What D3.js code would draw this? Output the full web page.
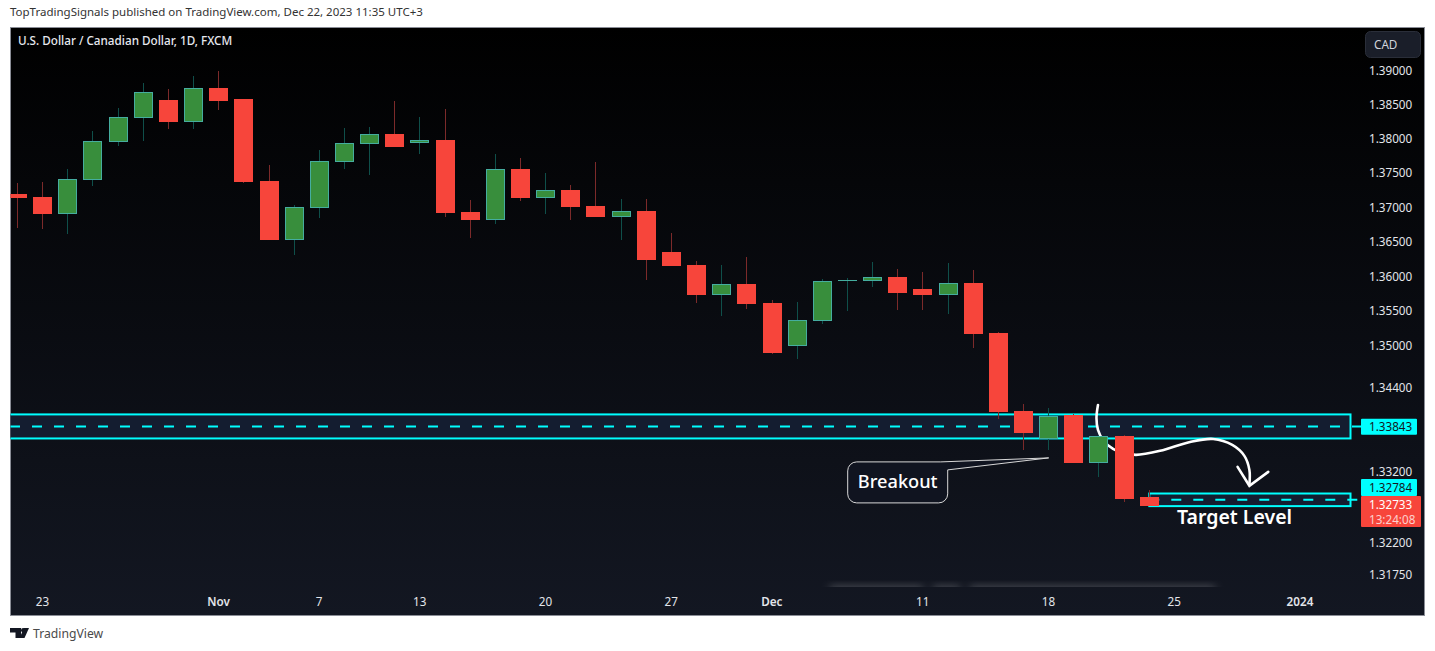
<!DOCTYPE html>
<html>
<head>
<meta charset="utf-8">
<script src="https://cdn.jsdelivr.net/npm/d3@7"></script>
<style>
  html, body { margin: 0; padding: 0; background: #fff; overflow: hidden; }
  text { font-family: "Noto Sans", "Open Sans", sans-serif; }
  .domain { display: none; }
</style>
</head>
<body>
<svg id="chart" width="1435" height="651"></svg>
<script>
// daily sessions, Oct 20 2023 to Dec 22 2023 (USD/CAD 1D)
var barDates = ["10-20","10-23","10-24","10-25","10-26","10-27","10-30","10-31","11-01","11-02","11-03",
  "11-06","11-07","11-08","11-09","11-10","11-13","11-14","11-15","11-16","11-17","11-20","11-21","11-22","11-23","11-24",
  "11-27","11-28","11-29","11-30","12-01","12-04","12-05","12-06","12-07","12-08","12-11","12-12","12-13","12-14","12-15",
  "12-18","12-19","12-20","12-21","12-22"];
var opens = [1.37194,1.37150,1.36907,1.37409,1.37965,1.38314,1.38559,1.38253,1.38746,1.38573,1.37384,
  1.36531,1.37000,1.37669,1.37934,1.38068,1.37945,1.37980,1.36932,1.36820,1.37555,1.37140,1.37248,1.37015,1.36864,1.36942,
  1.36347,1.36159,1.35735,1.35884,1.35610,1.35002,1.35365,1.35938,1.35936,1.35985,1.35812,1.35735,1.35899,1.35179,1.34062,
  1.33674,1.33996,1.33339,1.33708,1.32837];
var highs = [1.37350,1.37365,1.37555,1.38116,1.38450,1.38824,1.38735,1.38926,1.39000,1.38590,1.37618,
  1.37034,1.37838,1.38160,1.38175,1.38559,1.38317,1.38439,1.37107,1.37779,1.37720,1.37501,1.37326,1.37661,1.37121,1.37121,
  1.36627,1.36221,1.36163,1.36279,1.35658,1.35629,1.35961,1.35975,1.36206,1.36105,1.36062,1.36192,1.36090,1.35190,1.34166,
  1.34109,1.34024,1.33726,1.33726,1.32948];
var lows = [1.36705,1.36690,1.36618,1.37315,1.37900,1.37974,1.38150,1.38150,1.38425,1.37360,1.36525,
  1.36314,1.36850,1.37564,1.37476,1.37880,1.37780,1.36865,1.36560,1.36763,1.37096,1.36907,1.36820,1.36858,1.36526,1.35951,
  1.36148,1.35620,1.35432,1.35533,1.34888,1.34816,1.35316,1.35503,1.35850,1.35514,1.35514,1.35460,1.34973,1.33958,1.33517,
  1.33517,1.33328,1.33131,1.32783,1.32725];
var closes = [1.37140,1.36907,1.37409,1.37965,1.38317,1.38687,1.38253,1.38740,1.38563,1.37374,1.36531,
  1.37000,1.37672,1.37937,1.38068,1.37886,1.37980,1.36922,1.36820,1.37555,1.37140,1.37248,1.37009,1.36864,1.36942,1.36241,
  1.36153,1.35735,1.35884,1.35605,1.34902,1.35365,1.35928,1.35946,1.35985,1.35763,1.35735,1.35899,1.35173,1.34056,1.33759,
  1.33992,1.33334,1.33708,1.32826,1.32733];

// axis labels
var priceTicks = [1.39,1.385,1.38,1.375,1.37,1.365,1.36,1.355,1.35,1.344,1.332,1.322,1.3175];
var timeTickBars = [1,8,12,16,21,26,30,36,41,46,51];
var timeTickLabels = ["23","Nov","7","13","20","27","Dec","11","18","25","2024"];
var timeTickBold = ["Nov","Dec","2024"];

// drawings, in bar index / price
var zoneLevels = [1.33843, 1.32784];
var zoneTops = [1.34018, 1.32896];
var zoneBottoms = [1.33676, 1.32718];
var zoneStarts = [-0.7, 45];
var zoneEnd = 53;
var arrowBars = [42.96,42.90,42.96,43.16,43.56,44.0,44.47,45.43,46.62,47.54,48.30,48.78,48.98,48.98];
var arrowPrices = [1.34152,1.33968,1.33797,1.33655,1.33527,1.33471,1.33443,1.33500,1.33627,1.33669,1.33584,1.33429,1.33230,1.33019];
var headBars = [48.51,48.98,49.73];
var headPrices = [1.33273,1.33005,1.33202];
var lastPrice = closes[closes.length - 1];

var svg = d3.select("#chart");
var defs = svg.append("defs");

var panel = {left: 10.5, right: 1424.5, top: 27.5, bottom: 615.5};

var x = d3.scaleLinear().domain([0, 53]).range([17.5, 1350.5]);
var y = d3.scaleLog().domain([1.39, 1.3175]).range([71, 575]);

var bg = defs.append("linearGradient").attr("id", "bg").attr("x1", 0).attr("y1", 0).attr("x2", 0).attr("y2", 1);
bg.append("stop").attr("offset", "0%").attr("stop-color", "#000000");
bg.append("stop").attr("offset", "100%").attr("stop-color", "#131722");

var smear = defs.append("linearGradient").attr("id", "smear").attr("x1", 0).attr("y1", 0).attr("x2", 0).attr("y2", 1);
smear.append("stop").attr("offset", "0%").attr("stop-color", "#fff").attr("stop-opacity", 0);
smear.append("stop").attr("offset", "100%").attr("stop-color", "#fff").attr("stop-opacity", 0.13);

defs.append("filter").attr("id", "soft").attr("x", "-5%").attr("width", "110%")
  .append("feGaussianBlur").attr("stdDeviation", "4 0");

defs.append("clipPath").attr("id", "plot").append("rect")
  .attr("x", panel.left).attr("y", panel.top)
  .attr("width", panel.right - panel.left).attr("height", panel.bottom - panel.top);

//Top line of the snapshot
svg.append("text").attr("x", 10).attr("y", 16)
  .style("font-size", "11.5px").attr("fill", "#333")
  .text("TopTradingSignals published on TradingView.com, Dec 22, 2023 11:35 UTC+3");

//Chart panel
svg.append("rect")
  .attr("x", panel.left).attr("y", panel.top)
  .attr("width", panel.right - panel.left).attr("height", panel.bottom - panel.top)
  .attr("fill", "url(#bg)").attr("stroke", "#8a8d96");

//Faint smear above the time axis
svg.append("g").attr("filter", "url(#soft)").selectAll("rect")
  .data([[830, 93], [933, 27], [970, 245]])
  .enter().append("rect")
  .attr("x", d => d[0]).attr("y", 580).attr("width", d => d[1]).attr("height", 7)
  .attr("fill", "url(#smear)");

var plot = svg.append("g").attr("clip-path", "url(#plot)");

//Zones with dashed level
zoneLevels.forEach(function(level, i) {
  var x0 = x(zoneStarts[i]), x1 = x(zoneEnd);
  var top = y(zoneTops[i]), bottom = y(zoneBottoms[i]);
  plot.append("rect")
    .attr("x", x0).attr("y", top)
    .attr("width", x1 - x0).attr("height", bottom - top)
    .attr("fill", "#141d30").attr("stroke", "#00ffff").attr("stroke-width", 2);
  plot.append("line")
    .attr("x1", Math.max(x0, 10)).attr("x2", x1 + 11)
    .attr("y1", (top + bottom) / 2).attr("y2", (top + bottom) / 2)
    .attr("stroke", "#00ffff").attr("stroke-width", 2).attr("stroke-dasharray", "10 12");
});

//Freehand arrow, passes behind the candles
var curve = d3.line().x(d => x(d[0])).y(d => y(d[1])).curve(d3.curveCatmullRom);
plot.append("path")
  .attr("d", curve(d3.zip(arrowBars, arrowPrices)))
  .attr("fill", "none").attr("stroke", "#fff").attr("stroke-width", 2.6).attr("stroke-linecap", "round");
plot.append("path")
  .attr("d", d3.line().x(d => x(d[0])).y(d => y(d[1]))(d3.zip(headBars, headPrices)))
  .attr("fill", "none").attr("stroke", "#fff").attr("stroke-width", 2.6).attr("stroke-linecap", "round");

//Candles
var candles = barDates.map(function(d, i) {
  return {date: d, i: i, o: opens[i], h: highs[i], l: lows[i], c: closes[i]};
});
var bodyWidth = 18;

plot.selectAll(".wick").data(candles).enter().append("line")
  .classed("wick", true)
  .attr("x1", d => x(d.i)).attr("x2", d => x(d.i))
  .attr("y1", d => y(d.h)).attr("y2", d => y(d.l))
  .attr("shape-rendering", "crispEdges")
  .attr("stroke", d => d.c >= d.o ? "#0f4f4a" : "#7c2a2a");

plot.selectAll(".body").data(candles).enter().append("rect")
  .classed("body", true)
  .attr("x", d => x(d.i) - bodyWidth / 2)
  .attr("y", d => y(Math.max(d.o, d.c)))
  .attr("width", bodyWidth)
  .attr("height", d => Math.max(Math.abs(y(d.o) - y(d.c)), 0.5))
  .attr("shape-rendering", "crispEdges")
  .attr("fill", d => d.c >= d.o ? "#388e3c" : "#f7453b")
  .attr("stroke", d => d.c >= d.o ? "#45ad9f" : "#f7453b");

//Breakout callout, anchored on the Dec 18 bar
var tipX = x(41), tipY = y(1.334);
var boxL = tipX - 201, boxT = tipY + 4, boxR = boxL + 100, boxB = boxT + 41, r = 9;
var calloutPath = d3.path();
calloutPath.moveTo(boxL + r, boxT);
calloutPath.lineTo(boxR - 7, boxT);
calloutPath.lineTo(tipX, tipY);
calloutPath.lineTo(boxR, boxT + 8);
calloutPath.lineTo(boxR, boxB - r);
calloutPath.arcTo(boxR, boxB, boxR - r, boxB, r);
calloutPath.lineTo(boxL + r, boxB);
calloutPath.arcTo(boxL, boxB, boxL, boxB - r, r);
calloutPath.lineTo(boxL, boxT + r);
calloutPath.arcTo(boxL, boxT, boxL + r, boxT, r);
svg.append("path").attr("d", calloutPath.toString())
  .attr("fill", "#101420").attr("stroke", "#d8d8d8").attr("stroke-width", 1);
svg.append("text")
  .attr("x", (boxL + boxR) / 2).attr("y", (boxT + boxB) / 2 + 6)
  .attr("text-anchor", "middle").attr("fill", "#fff")
  .style("font-size", "18.2px").style("font-weight", 500)
  .text("Breakout");

svg.append("text")
  .attr("x", x(48.39)).attr("y", y(1.32468))
  .attr("text-anchor", "middle").attr("fill", "#fff")
  .style("font-size", "19.5px").style("font-weight", 600)
  .text("Target Level");

//Title and currency button
svg.append("text").attr("x", 18).attr("y", 45)
  .attr("fill", "#e6e8ee").style("font-size", "11.7px").style("font-weight", 500)
  .text("U.S. Dollar / Canadian Dollar, 1D, FXCM");
svg.append("rect")
  .attr("x", 1365.5).attr("y", 31.5).attr("width", 55).attr("height", 26).attr("rx", 5)
  .attr("fill", "#1a1e29").attr("stroke", "#2a2e39");
svg.append("text").attr("x", 1374).attr("y", 48.5)
  .attr("fill", "#d1d4dc").style("font-size", "11.7px").text("CAD");

//Price axis
var yAxis = d3.axisRight(y).tickValues(priceTicks).tickSize(0).tickPadding(8)
  .tickFormat(d3.format(".5f"));
var yG = svg.append("g").attr("transform", "translate(1361,0)").call(yAxis);
yG.selectAll("text").attr("fill", "#e3e5ea").style("font-size", "11.7px");

//Time axis
var xAxis = d3.axisBottom(x).tickValues(timeTickBars).tickSize(0).tickPadding(0)
  .tickFormat((d, i) => timeTickLabels[i]);
var xG = svg.append("g").attr("transform", "translate(-0.7,598)").call(xAxis);
xG.selectAll("text").attr("fill", "#e3e5ea").style("font-size", "11.7px")
  .style("font-weight", (d, i) => timeTickBold.indexOf(timeTickLabels[i]) >= 0 ? 600 : 400);

//Price tags on the axis
var tags = [
  {p: zoneLevels[0], w: 56, h: 16, fill: "#00ffff", text: "#131722", rows: [d3.format(".5f")(zoneLevels[0])]},
  {p: zoneLevels[1], w: 56, h: 17, fill: "#00ffff", text: "#131722", off: -14, rows: [d3.format(".5f")(zoneLevels[1])]},
  {p: lastPrice, w: 60, h: 31, fill: "#f7453b", text: "#ffffff", off: 6.5, rows: [d3.format(".5f")(lastPrice), "13:24:08"]}
];
tags.forEach(function(t) {
  var cy = y(t.p) + (t.off || 0);
  svg.append("rect").attr("x", 1361).attr("y", cy - t.h / 2).attr("width", t.w).attr("height", t.h)
    .attr("rx", 1).attr("fill", t.fill);
  t.rows.forEach(function(row, k) {
    svg.append("text")
      .attr("x", 1369).attr("y", cy + (t.rows.length > 1 ? (k === 0 ? -2.5 : 12) : 4.5))
      .attr("fill", t.text).attr("fill-opacity", k === 1 ? 0.75 : 1)
      .style("font-size", "11.7px").text(row);
  });
});

//Footer logo and name
var logo = svg.append("g").attr("transform", "translate(10,628)").attr("fill", "#131722");
logo.append("path").attr("d", "M0 0H11V10H5.5V4.5H0Z");
logo.append("circle").attr("cx", 13.2).attr("cy", 2.2).attr("r", 2.2);
logo.append("path").attr("d", "M19 0L14.5 10H9.5L14 0Z");
svg.append("text").attr("x", 33).attr("y", 637.5)
  .attr("fill", "#4a4a4a").style("font-size", "12.2px").text("TradingView");
</script>
</body>
</html>
